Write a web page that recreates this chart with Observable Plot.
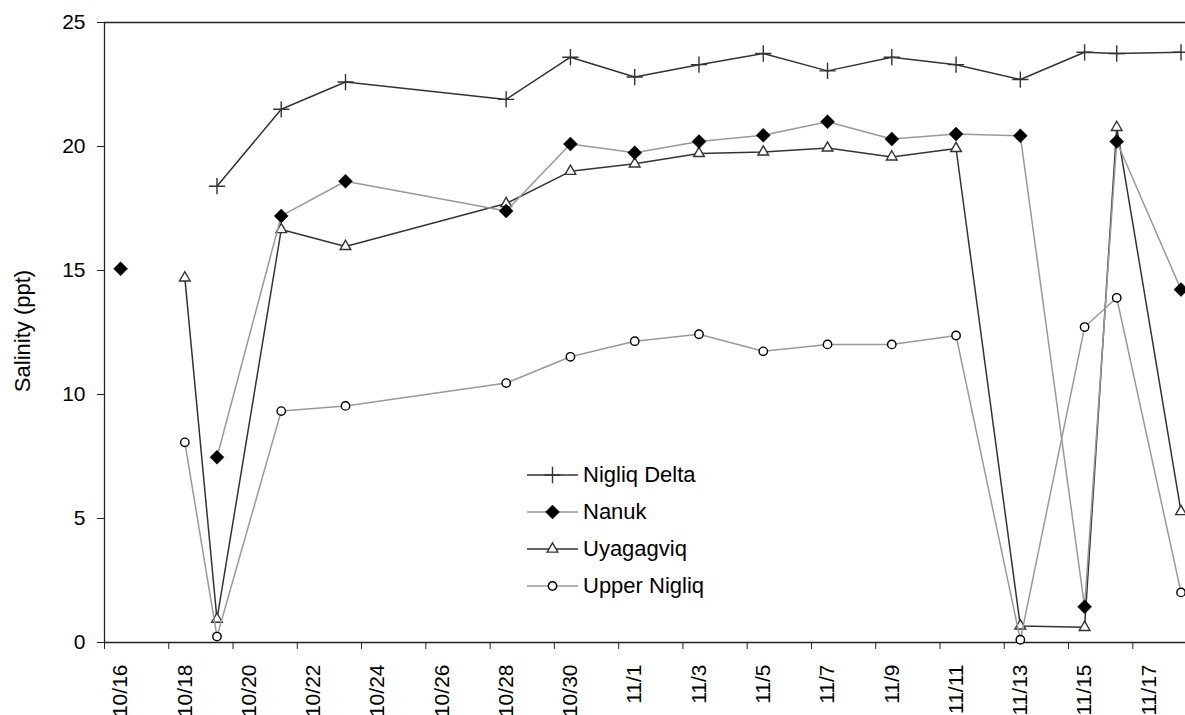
<!DOCTYPE html>
<html>
<head>
<meta charset="utf-8">
<script src="https://cdn.jsdelivr.net/npm/d3@7"></script>
<script src="https://cdn.jsdelivr.net/npm/@observablehq/plot@0.6"></script>
<style>
  body { margin: 0; background: #fff; font-family: "Liberation Sans", Arial, sans-serif; }
  #wrap { position: relative; width: 1185px; height: 715px; overflow: hidden; }
  #legend { position: absolute; left: 527px; top: 456px; }
  .row { display: flex; align-items: center; height: 37px; font-size: 22px; color: #000; white-space: nowrap; }
  .row svg { display: block; margin-right: 5px; }
  #ylabel { position: absolute; left: 23px; top: 331px; transform: translate(-50%, -50%) rotate(-90deg);
            font-size: 22px; color: #000; white-space: nowrap; line-height: 1; }
</style>
</head>
<body>
<div id="wrap"><div id="ylabel"></div><div id="legend"></div></div>
<script>
// ---- data ----
const sampleDates = ["10/16","10/18","10/19","10/21","10/23","10/28","10/30","11/1","11/3","11/5","11/7","11/9","11/11","11/13","11/15","11/16","11/18"];
const nigliqDelta = [null, null, 18.4, 21.5, 22.6, 21.9, 23.6, 22.8, 23.3, 23.75, 23.05, 23.6, 23.3, 22.7, 23.8, 23.75, 23.8];
const nanuk       = [15.07, null, 7.47, 17.2, 18.6, 17.4, 20.1, 19.75, 20.2, 20.45, 21.0, 20.3, 20.5, 20.43, 1.44, 20.2, 14.23];
const uyagagviq   = [null, 14.7, 0.94, 16.65, 15.97, 17.7, 19.0, 19.3, 19.72, 19.78, 19.94, 19.58, 19.92, 0.67, 0.61, 20.77, 5.28];
const upperNigliq = [null, 8.07, 0.24, 9.33, 9.54, 10.46, 11.52, 12.15, 12.43, 11.74, 12.02, 12.02, 12.38, 0.11, 12.72, 13.9, 2.02];
const seriesNames = ["Nigliq Delta", "Nanuk", "Uyagagviq", "Upper Nigliq"];
const tickLabels = ["10/16","10/18","10/20","10/22","10/24","10/26","10/28","10/30","11/1","11/3","11/5","11/7","11/9","11/11","11/13","11/15","11/17"];
const yTicks = [0, 5, 10, 15, 20, 25];
const yLabel = "Salinity (ppt)";

// ---- helpers ----
const YEAR = 2006;
function toDate(md, hour) {
  const [m, d] = md.split("/").map(Number);
  return new Date(Date.UTC(YEAR, m - 1, d, hour || 0));
}
const DARK = "#333333", GRAY = "#999999";
const styles = {
  "Nigliq Delta": {values: nigliqDelta, line: DARK, symbol: "plus", r: 5.3, fill: "none", stroke: DARK, sw: 1.4},
  "Nanuk":        {values: nanuk, line: GRAY, symbol: "diamond2", r: 6.3, fill: "#000", stroke: "#000", sw: 0.5},
  "Uyagagviq":    {values: uyagagviq, line: DARK, symbol: "triangle2", r: 5.1, fill: "#fff", stroke: DARK, sw: 1.4},
  "Upper Nigliq": {values: upperNigliq, line: GRAY, symbol: "circle", r: 4.2, fill: "#fff", stroke: "#000", sw: 1.4}
};
const rows = [];
for (const name of seriesNames) {
  styles[name].values.forEach((v, i) => rows.push({series: name, date: toDate(sampleDates[i], 12), value: v}));
}
const tickDates = tickLabels.map(t => toDate(t, 0));
const labelDates = tickLabels.map(t => toDate(t, 12));
const labelMap = new Map(labelDates.map((d, i) => [+d, tickLabels[i]]));
const xStart = toDate("10/16", 0);
const xEnd = new Date(+xStart + 33.64 * 864e5);

const drawOrder = ["Nigliq Delta", "Uyagagviq", "Upper Nigliq", "Nanuk"];
const seriesMarks = [];
for (const name of drawOrder) {
  const s = styles[name];
  const data = rows.filter(r => r.series === name);
  seriesMarks.push(Plot.line(data, {x: "date", y: "value", stroke: s.line, strokeWidth: 1.5}));
  seriesMarks.push(Plot.dot(data.filter(r => r.value != null), {
    x: "date", y: "value", symbol: s.symbol, r: s.r, fill: s.fill, stroke: s.stroke, strokeWidth: s.sw
  }));
}

const chart = Plot.plot({
  width: 1185,
  height: 715,
  marginTop: 22,
  marginBottom: 73,
  marginLeft: 104,
  marginRight: 0,
  style: {fontFamily: "'Liberation Sans', Arial, sans-serif", fontSize: "21px", color: "#000", background: "#fff"},
  x: {type: "utc", domain: [xStart, xEnd]},
  y: {domain: [0, 25]},
  marks: [
    Plot.ruleY([25], {stroke: "#222", strokeWidth: 1.3}),
    Plot.ruleY([0], {stroke: "#222", strokeWidth: 1.3}),
    Plot.ruleX([xStart], {stroke: "#222", strokeWidth: 1.3}),
    Plot.axisY({ticks: yTicks, tickSize: 7, tickPadding: 12, fontSize: 21, stroke: "#222", label: null}),
    Plot.axisX({ticks: tickDates, tickSize: 7, tickFormat: () => "", stroke: "#222", label: null}),
    Plot.axisX({ticks: labelDates, tickSize: 0, tickPadding: 22, tickRotate: -90, fontSize: 21,
      tickFormat: d => labelMap.get(+d), label: null}),
    ...seriesMarks
  ]
});
document.getElementById("wrap").prepend(chart);
document.getElementById("ylabel").textContent = yLabel;

// ---- legend ----
const legend = document.getElementById("legend");
const symMap = {plus: d3.symbolPlus, diamond2: d3.symbolDiamond2, triangle2: d3.symbolTriangle2, circle: d3.symbolCircle};
for (const name of seriesNames) {
  const s = styles[name];
  const row = document.createElement("div");
  row.className = "row";
  const path = d3.symbol(symMap[s.symbol], Math.PI * s.r * s.r)();
  row.innerHTML = `<svg width="51" height="20" viewBox="0 0 51 20">
    <line x1="0" x2="51" y1="10" y2="10" stroke="${s.line}" stroke-width="1.5"/>
    <path d="${path}" transform="translate(25.5,10)" fill="${s.fill}" stroke="${s.stroke}" stroke-width="${s.sw}"/>
  </svg><span>${name}</span>`;
  legend.appendChild(row);
}
</script>
</body>
</html>
